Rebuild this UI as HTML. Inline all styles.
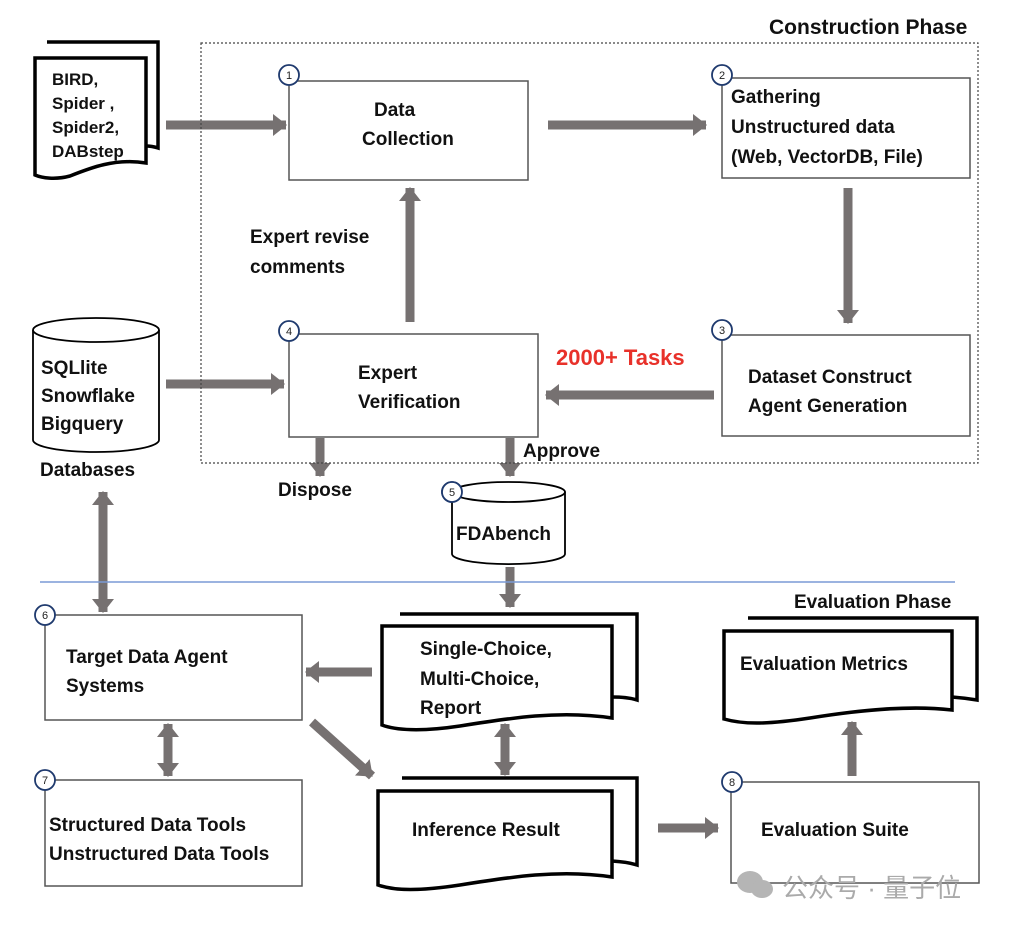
<!DOCTYPE html>
<html><head><meta charset="utf-8"><style>
html,body{margin:0;padding:0;background:#fff;}
svg{display:block;}
text{font-family:"Liberation Sans","Noto Sans CJK SC",sans-serif;font-weight:bold;fill:#111;}
.n{font-size:11px;font-weight:normal;fill:#222;}
</style></head><body>
<svg width="1016" height="930" viewBox="0 0 1016 930" xmlns="http://www.w3.org/2000/svg">
<defs>
<marker id="h" markerUnits="userSpaceOnUse" markerWidth="14" markerHeight="22" refX="13" refY="11" orient="auto-start-reverse">
<path d="M0,0 L14,11 L0,22 Z" fill="#767171"/>
</marker>
</defs>
<g stroke="#767171" stroke-width="9" fill="none" marker-end="url(#h)">
<line x1="166" y1="125" x2="286" y2="125"/>
<line x1="548" y1="125" x2="706" y2="125"/>
<line x1="848" y1="188" x2="848" y2="323"/>
<line x1="714" y1="395" x2="546" y2="395"/>
<line x1="410" y1="322" x2="410" y2="188"/>
<line x1="166" y1="384" x2="284" y2="384"/>
<line x1="320" y1="438" x2="320" y2="476"/>
<line x1="510" y1="438" x2="510" y2="476"/>
<line x1="510" y1="567" x2="510" y2="607"/>
<line x1="372" y1="672" x2="306" y2="672"/>
<line x1="312" y1="722" x2="372" y2="776"/>
<line x1="658" y1="828" x2="718" y2="828"/>
<line x1="852" y1="776" x2="852" y2="722"/>
<line x1="103" y1="492" x2="103" y2="612" marker-start="url(#h)"/>
<line x1="505" y1="724" x2="505" y2="775" marker-start="url(#h)"/>
<line x1="168" y1="724" x2="168" y2="776" marker-start="url(#h)"/>
</g>
<rect x="201" y="43" width="777" height="420" fill="none" stroke="#444" stroke-width="1.2" stroke-dasharray="2,2"/>
<text x="769" y="34" font-size="21">Construction Phase</text>
<line x1="40" y1="582" x2="955" y2="582" stroke="#7a9ad6" stroke-width="1.5"/>
<g fill="#fff" stroke="#555" stroke-width="1.5">
<rect x="289" y="81" width="239" height="99"/>
<rect x="722" y="78" width="248" height="100"/>
<rect x="722" y="335" width="248" height="101"/>
<rect x="289" y="334" width="249" height="103"/>
<rect x="45" y="615" width="257" height="105"/>
<rect x="45" y="780" width="257" height="106"/>
<rect x="731" y="782" width="248" height="101"/>
</g>
<g fill="#fff" stroke="#1f3a6e" stroke-width="1.8">
<circle cx="289" cy="75" r="10"/><circle cx="722" cy="75" r="10"/>
<circle cx="722" cy="330" r="10"/><circle cx="289" cy="331" r="10"/>
<circle cx="452" cy="492" r="10"/><circle cx="45" cy="615" r="10"/>
<circle cx="45" cy="780" r="10"/><circle cx="732" cy="782" r="10"/>
</g>
<g text-anchor="middle">
<text class="n" x="289" y="79">1</text><text class="n" x="722" y="79">2</text>
<text class="n" x="722" y="334">3</text><text class="n" x="289" y="335">4</text>
<text class="n" x="45" y="619">6</text>
<text class="n" x="45" y="784">7</text><text class="n" x="732" y="786">8</text>
</g>
<g fill="#fff" stroke="#000" stroke-width="3.5">
<path d="M47,42 H158 V148 Q152,146 146,146"/>
<path d="M35,58 H146 V163 C115,158 90,168 70,176 C55,180 42,178 35,175 Z"/>
<path d="M400,614 H637 V700 Q628,697 612,697"/>
<path d="M382,626 H612 V718 C560,710 510,718 460,726 C420,732 395,730 382,725 Z"/>
<path d="M402,778 H637 V865 Q628,862 612,861"/>
<path d="M378,791 H612 V877 C560,869 510,877 460,885 C420,891 395,891 378,885 Z"/>
<path d="M748,618 H977 V700 Q965,698 952,697"/>
<path d="M724,631 H952 V710 C910,705 860,710 810,718 C770,724 745,725 724,719 Z"/>
</g>
<g fill="#fff" stroke="#000" stroke-width="1.8">
<path d="M33,330 V440 A63,12 0 0 0 159,440 V330"/>
<ellipse cx="96" cy="330" rx="63" ry="12"/>
<path d="M452,492 V554 A56,10 0 0 0 565,554 V492"/>
<ellipse cx="508.5" cy="492" rx="56.5" ry="10"/>
</g>
<circle cx="452" cy="492" r="10" fill="#fff" stroke="#1f3a6e" stroke-width="1.8"/>
<text class="n" x="452" y="496" text-anchor="middle">5</text>
<g font-size="19">
<text x="52" y="85" font-size="17">BIRD,</text>
<text x="52" y="109" font-size="17">Spider ,</text>
<text x="52" y="133" font-size="17">Spider2,</text>
<text x="52" y="157" font-size="17">DABstep</text>
<text x="374" y="116">Data</text>
<text x="362" y="145">Collection</text>
<text x="731" y="103">Gathering</text>
<text x="731" y="133">Unstructured data</text>
<text x="731" y="163">(Web, VectorDB, File)</text>
<text x="748" y="383">Dataset Construct</text>
<text x="748" y="412">Agent Generation</text>
<text x="358" y="379">Expert</text>
<text x="358" y="408">Verification</text>
<text x="250" y="243">Expert revise</text>
<text x="250" y="273">comments</text>
<text x="556" y="365" font-size="22" style="fill:#e8312a">2000+ Tasks</text>
<text x="41" y="374">SQLlite</text>
<text x="41" y="402">Snowflake</text>
<text x="41" y="430">Bigquery</text>
<text x="40" y="476">Databases</text>
<text x="278" y="496">Dispose</text>
<text x="523" y="457">Approve</text>
<text x="456" y="540">FDAbench</text>
<text x="794" y="608">Evaluation Phase</text>
<text x="66" y="663">Target Data Agent</text>
<text x="66" y="692">Systems</text>
<text x="420" y="655">Single-Choice,</text>
<text x="420" y="685">Multi-Choice,</text>
<text x="420" y="714">Report</text>
<text x="740" y="670">Evaluation Metrics</text>
<text x="412" y="836">Inference Result</text>
<text x="761" y="836">Evaluation Suite</text>
<text x="49" y="831">Structured Data Tools</text>
<text x="49" y="860">Unstructured Data Tools</text>
</g>
<g fill="#b5b5b5">
<ellipse cx="750" cy="882" rx="13" ry="11"/>
<ellipse cx="762" cy="889" rx="11" ry="9"/>
</g>
<text x="782" y="897" font-size="26" style="fill:#aaa;font-weight:normal">公众号 · 量子位</text>
</svg>
</body></html>
